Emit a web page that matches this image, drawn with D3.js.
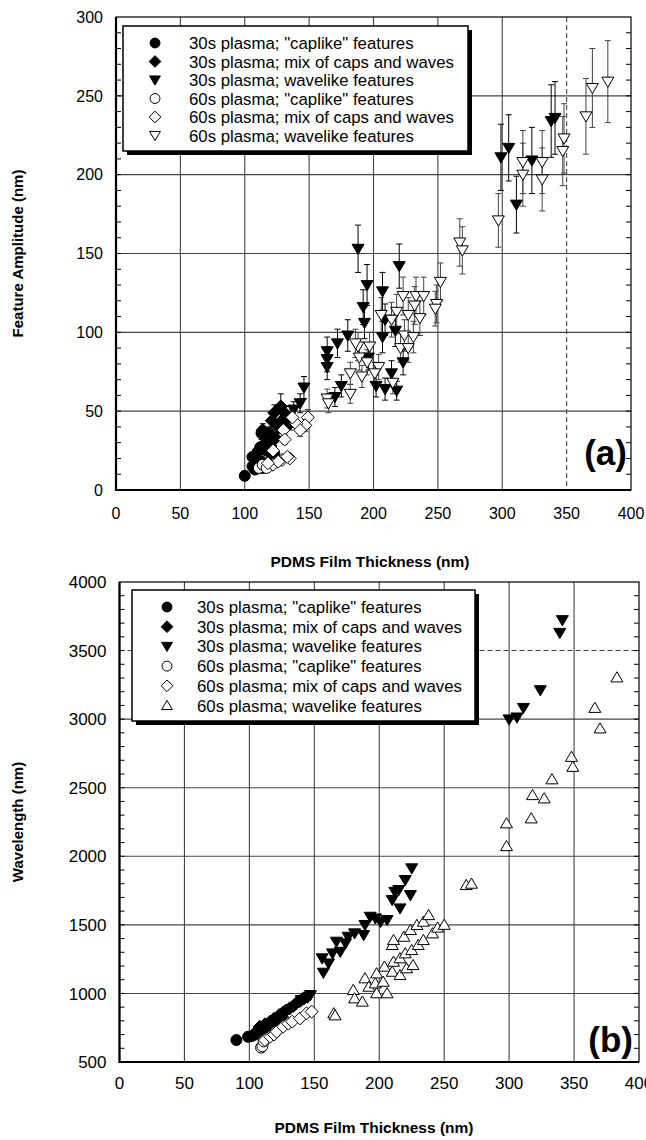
<!DOCTYPE html>
<html>
<head>
<meta charset="utf-8">
<script src="https://cdnjs.cloudflare.com/ajax/libs/d3/7.8.5/d3.min.js"></script>
<style>
body { margin: 0; background: #fff; }
svg text { font-family: "Liberation Sans", Arial, sans-serif; fill: #000; }
</style>
</head>
<body>
<div id="chart"></div>
<script>
// ---- shared labels / ticks
var legendLabels = ['30s plasma; "caplike" features', '30s plasma; mix of caps and waves',
    '30s plasma; wavelike features', '60s plasma; "caplike" features',
    '60s plasma; mix of caps and waves', '60s plasma; wavelike features'];
var thickTicks = [0, 50, 100, 150, 200, 250, 300, 350, 400];
var ampTicks = [0, 50, 100, 150, 200, 250, 300];
var wlTicks = [500, 1000, 1500, 2000, 2500, 3000, 3500, 4000];

// ---- panel (a): [thickness nm, amplitude nm, error]
var ampCap30 = [[100,9,2],[106,15,2],[106,21,2],[109,17,2],[112,27,3],[113,18,2],[113,36,4],[114,14,2],
    [117,30,3],[117,25,3],[119,36,4],[121,22,2],[123,23,2],[110,24,2],[108,13,2]];
var ampMix30 = [[114,38,4],[119,34,3],[121,44,4],[123,49,5],[126,40,4],[128,53,8],[130,45,5],[116,30,3],
    [124,33,3],[132,48,5],[120,28,3],[135,42,4]];
var ampWave30 = [[188,153,15],[220,142,14],[195,130,13],[207,126,12],[193,106,10],[192,116,11],[172,93,9],
    [180,98,10],[164,88,9],[164,78,8],[209,108,10],[207,97,10],[217,101,10],[223,81,8],[214,74,8],
    [202,66,7],[209,64,7],[218,63,6],[175,66,7],[170,59,6],[146,65,7],[143,55,6],[164,83,8],[196,84,8],
    [138,51,5],[299,211,21],[305,217,21],[311,181,18],[323,209,21],[338,234,23],[341,236,23]];
var ampCap60 = [[111,14,2],[114,16,2],[117,14,2]];
var ampMix60 = [[149,46,5],[147,41,4],[140,42,4],[137,46,5],[130,38,4],[131,32,3],[122,25,3],[135,20,2],
    [129,19,2],[122,16,2],[126,18,2],[133,21,2],[118,17,2],[143,38,4]];
var ampWave60 = [[297,171,17],[316,208,20],[316,200,20],[331,208,20],[331,197,20],[348,223,22],[347,215,22],
    [365,237,24],[370,255,25],[382,259,26],[267,157,15],[269,152,15],[252,132,12],[249,118,12],[248,115,11],
    [223,123,12],[233,123,12],[239,123,12],[232,117,12],[236,109,11],[227,111,11],[218,113,11],[206,111,11],
    [214,108,11],[224,98,10],[231,97,10],[221,90,9],[227,90,9],[188,91,9],[197,91,9],[189,84,8],[195,81,8],
    [204,78,8],[182,74,7],[191,72,7],[201,74,7],[215,68,7],[182,61,6],[164,58,6],[165,55,6],[186,93,9]];

// ---- panel (b): [thickness nm, wavelength nm]
var wlCap30 = [[90,660],[99,684],[102,690],[104,700],[106,721],[109,735],[112,750]];
var wlMix30 = [[108,757],[112,775],[114,760],[116,794],[119,815],[120,800],[123,842],[125,830],[126,860],
    [128,875],[131,891],[134,910],[136,928],[139,945],[142,964]];
var wlWave30 = [[140,952],[145,970],[147,988],[157,1151],[156,1256],[161,1219],[164,1292],[170,1304],
    [167,1377],[174,1365],[176,1413],[181,1438],[188,1426],[189,1499],[193,1559],[197,1547],[201,1522],
    [206,1535],[210,1681],[212,1741],[216,1620],[215,1754],[220,1827],[224,1717],[225,1912],
    [300,2998],[306,3012],[311,3082],[324,3211],[339,3629],[341,3722]];
var wlCap60 = [[109,605],[110,615],[111,650]];
var wlMix60 = [[112,660],[116,684],[119,700],[121,721],[126,757],[130,780],[133,794],[139,818],[144,855],[148,867]];
var wlWave60 = [[165,855],[166,840],[180,1025],[181,964],[187,940],[189,1110],[192,1049],[197,1073],[198,1146],
    [198,1001],[203,1085],[204,1195],[206,1001],[210,1158],[211,1231],[216,1134],[216,1256],[220,1292],
    [221,1183],[225,1316],[226,1207],[230,1353],[234,1389],[241,1438],[210,1353],[211,1389],[219,1413],
    [224,1462],[229,1499],[234,1523],[238,1571],[245,1480],[250,1500],[267,1790],[271,1800],[298,2074],
    [298,2240],[317,2276],[318,2446],[327,2422],[333,2561],[348,2725],[349,2652],[366,3082],[370,2932],[383,3304]];

var svg = d3.select("#chart").append("svg")
    .attr("width", 646)
    .attr("height", 1140);

function shape(type, s) {
    if (type == "circle") return d3.symbol().type(d3.symbolCircle).size(Math.PI * s * s)();
    if (type == "diamond") return "M0," + (-s) + "L" + s + ",0L0," + s + "L" + (-s) + ",0Z";
    if (type == "down") return "M" + (-s) + "," + (-0.75 * s) + "L" + s + "," + (-0.75 * s) + "L0," + (0.95 * s) + "Z";
    return "M" + (-s) + "," + (0.75 * s) + "L" + s + "," + (0.75 * s) + "L0," + (-0.95 * s) + "Z";
}

function drawPanel(c) {
    var x = d3.scaleLinear().domain([0, 400]).range([c.left, c.right]);
    var y = d3.scaleLinear().domain(c.yDomain).range([c.bottom, c.top]);
    var g = svg.append("g");

    // grid
    thickTicks.slice(1, -1).forEach(function (t) {
        g.append("line").attr("x1", x(t)).attr("x2", x(t)).attr("y1", c.top).attr("y2", c.bottom)
            .attr("stroke", "#444").attr("stroke-width", 1.1)
            .attr("stroke-dasharray", t == c.dashX ? "5,3" : null);
    });
    c.yTicks.slice(1, -1).forEach(function (t) {
        g.append("line").attr("x1", c.left).attr("x2", c.right).attr("y1", y(t)).attr("y2", y(t))
            .attr("stroke", "#444").attr("stroke-width", 1.1)
            .attr("stroke-dasharray", t == c.dashY ? "5,3" : null);
    });
    // minor ticks left and right
    d3.range(c.yDomain[0], c.yDomain[1], c.minor).forEach(function (t) {
        g.append("line").attr("x1", c.left).attr("x2", c.left + 5).attr("y1", y(t)).attr("y2", y(t)).attr("stroke", "#000");
        g.append("line").attr("x1", c.right - 5).attr("x2", c.right).attr("y1", y(t)).attr("y2", y(t)).attr("stroke", "#000");
    });

    // error bars
    c.series.forEach(function (s) {
        if (!s.err) return;
        var eg = g.append("g").attr("stroke", s.fill ? "#000" : "#444").attr("stroke-width", 1);
        s.data.forEach(function (d) {
            eg.append("line").attr("x1", x(d[0])).attr("x2", x(d[0])).attr("y1", y(d[1] - d[2])).attr("y2", y(d[1] + d[2]));
            [d[1] - d[2], d[1] + d[2]].forEach(function (v) {
                eg.append("line").attr("x1", x(d[0]) - 3).attr("x2", x(d[0]) + 3).attr("y1", y(v)).attr("y2", y(v));
            });
        });
    });
    // points
    c.series.forEach(function (s) {
        g.selectAll(null).data(s.data).enter().append("path")
            .attr("d", shape(s.type, s.size))
            .attr("transform", function (d) { return "translate(" + x(d[0]) + "," + y(d[1]) + ")"; })
            .attr("fill", s.fill ? "#000" : "#fff")
            .attr("stroke", "#000").attr("stroke-width", 1);
    });

    // frame
    g.append("rect").attr("x", c.left).attr("y", c.top).attr("width", c.right - c.left).attr("height", c.bottom - c.top)
        .attr("fill", "none").attr("stroke", "#000").attr("stroke-width", 1.2);
    g.append("path").attr("d", "M" + c.left + "," + c.top + "V" + c.bottom + "H" + c.right)
        .attr("fill", "none").attr("stroke", "#000").attr("stroke-width", 2.2);

    // tick labels
    g.selectAll(null).data(thickTicks).enter().append("text")
        .attr("x", function (d) { return x(d); }).attr("y", c.bottom + c.xLabDy)
        .attr("text-anchor", "middle").style("font-size", c.font + "px").text(function (d) { return d; });
    g.selectAll(null).data(c.yTicks).enter().append("text")
        .attr("x", c.left - c.yLabDx).attr("y", function (d) { return y(d) + c.font * 0.36; })
        .attr("text-anchor", "end").style("font-size", c.font + "px").text(function (d) { return d; });

    // axis titles
    g.append("text").attr("x", c.xTitleX).attr("y", c.xTitleY).attr("text-anchor", "middle")
        .style("font-size", "15.5px").style("font-weight", "bold").text("PDMS Film Thickness (nm)");
    g.append("text").attr("transform", "translate(" + c.yTitleX + "," + ((c.top + c.bottom) / 2) + ") rotate(-90)")
        .attr("text-anchor", "middle").style("font-size", "15px").style("font-weight", "bold").text(c.yTitle);

    // legend
    var L = c.legend;
    g.append("rect").attr("x", L.x + 4).attr("y", L.y + 4).attr("width", L.w).attr("height", L.h).attr("fill", "#000");
    g.append("rect").attr("x", L.x).attr("y", L.y).attr("width", L.w).attr("height", L.h)
        .attr("fill", "#fff").attr("stroke", "#000").attr("stroke-width", 1.5);
    c.series.forEach(function (s, i) {
        var ry = L.row0 + i * L.dy;
        g.append("path").attr("d", shape(s.type, s.size * 0.9))
            .attr("transform", "translate(" + L.mx + "," + ry + ")")
            .attr("fill", s.fill ? "#000" : "#fff").attr("stroke", "#000");
        g.append("text").attr("x", L.tx).attr("y", ry + 6).style("font-size", "16.8px").text(legendLabels[i]);
    });

    g.append("text").attr("x", c.tagX).attr("y", c.tagY).attr("text-anchor", "end")
        .style("font-size", "35px").style("font-weight", "bold").text(c.tag);
}

drawPanel({
    left: 116, right: 631, top: 17, bottom: 490,
    yDomain: [0, 300], yTicks: ampTicks, minor: 10, dashX: 350,
    font: 16, xLabDy: 29, yLabDx: 13,
    xTitleX: 370, xTitleY: 567, yTitleX: 23, yTitle: "Feature Amplitude (nm)",
    legend: { x: 123, y: 26, w: 345, h: 125, mx: 155, tx: 189, row0: 43, dy: 18.5 },
    tag: "(a)", tagX: 627, tagY: 465,
    series: [
        { data: ampCap30, type: "circle", fill: true, size: 5.5, err: true },
        { data: ampMix30, type: "diamond", fill: true, size: 6.5, err: true },
        { data: ampWave30, type: "down", fill: true, size: 6, err: true },
        { data: ampCap60, type: "circle", fill: false, size: 5.5, err: true },
        { data: ampMix60, type: "diamond", fill: false, size: 6.5, err: true },
        { data: ampWave60, type: "down", fill: false, size: 6, err: true }
    ]
});

drawPanel({
    left: 119.5, right: 639, top: 582, bottom: 1062,
    yDomain: [500, 4000], yTicks: wlTicks, minor: 100, dashY: 3500,
    font: 17, xLabDy: 27, yLabDx: 13,
    xTitleX: 374, xTitleY: 1133, yTitleX: 23, yTitle: "Wavelength (nm)",
    legend: { x: 132, y: 590, w: 343, h: 131, mx: 167, tx: 197, row0: 607, dy: 19.7 },
    tag: "(b)", tagX: 633, tagY: 1052,
    series: [
        { data: wlCap30, type: "circle", fill: true, size: 5.5 },
        { data: wlMix30, type: "diamond", fill: true, size: 6.5 },
        { data: wlWave30, type: "down", fill: true, size: 6 },
        { data: wlCap60, type: "circle", fill: false, size: 5.5 },
        { data: wlMix60, type: "diamond", fill: false, size: 6.5 },
        { data: wlWave60, type: "up", fill: false, size: 6 }
    ]
});
</script>
</body>
</html>
